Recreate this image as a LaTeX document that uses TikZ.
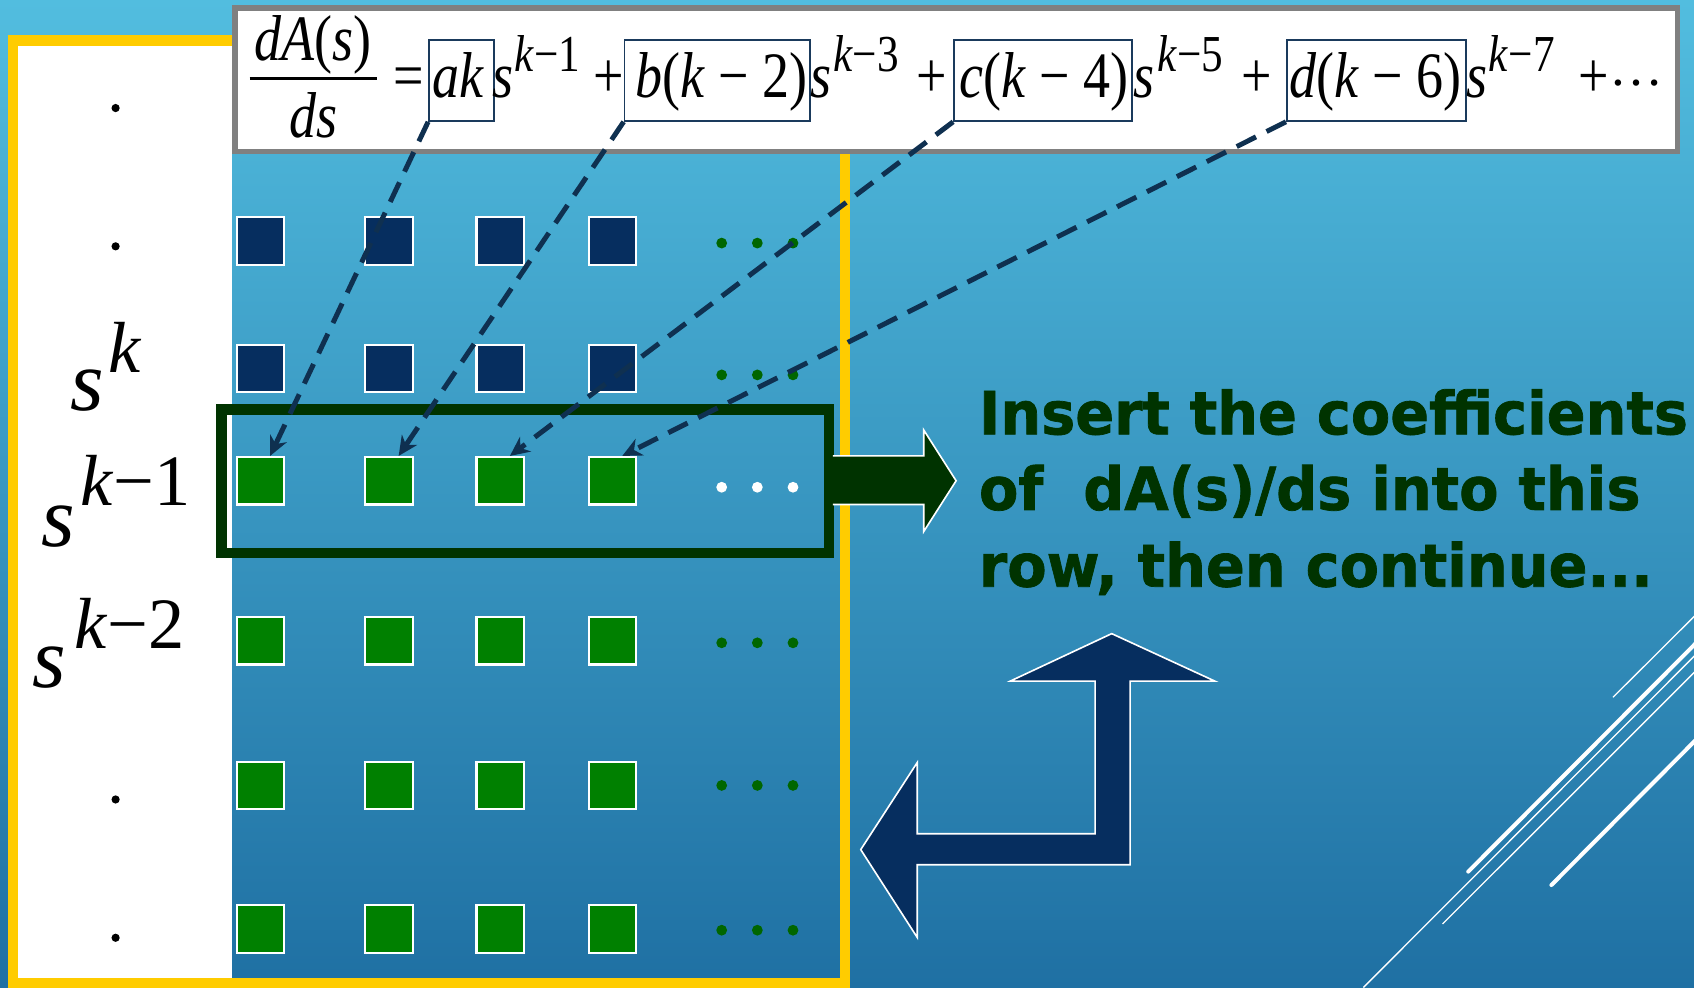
\documentclass[tikz,border=0pt]{standalone}
\usepackage{graphicx}
\usepackage{fontspec}
\setmainfont{Liberation Serif}
\newfontfamily\tahoma{DejaVu Sans}[FakeStretch=0.965,FakeBold=1.2]
\usetikzlibrary{arrows.meta}
\definecolor{bgtop}{HTML}{52BDDF}
\definecolor{bgbot}{HTML}{1F70A3}
\definecolor{frameyellow}{HTML}{FFCC00}
\definecolor{navy}{HTML}{062E5F}
\definecolor{sqgreen}{HTML}{008000}
\definecolor{dkgreen}{HTML}{003300}
\definecolor{dotgreen}{HTML}{006600}
\definecolor{dashnavy}{HTML}{0F3050}
\definecolor{termcol}{HTML}{1A3A5C}
\definecolor{eqgray}{HTML}{808080}
\newcommand\vs[1]{\scalebox{1}[1.2]{#1}}
\begin{document}
\begin{tikzpicture}[x=1pt,y=-1pt,
  cell/.style={draw=white,line width=2pt,minimum size=44pt,inner sep=0pt},
  navycell/.style={cell,fill=navy},
  greencell/.style={cell,fill=sqgreen},
  eq/.style={inner sep=0pt,anchor=base west,font=\fontsize{50}{50}\selectfont},
  sup/.style={inner sep=0pt,anchor=base west,font=\fontsize{40}{40}\selectfont},
  lbl/.style={inner sep=0pt,anchor=base west,font=\fontsize{80}{80}\selectfont},
  lblsup/.style={inner sep=0pt,anchor=base west,font=\fontsize{67}{67}\selectfont},
  termbox/.style={draw=termcol,line width=1.5pt,inner sep=0pt,minimum height=75pt},
  note/.style={inner sep=0pt,anchor=base west,text=dkgreen,font=\tahoma\bfseries\fontsize{55}{71}\selectfont},
  dasharrow/.style={draw=dashnavy,line width=4.6pt,dash pattern=on 20pt off 11pt,-{Stealth[length=18pt,width=17pt]}},
  thickline/.style={draw=white,line width=3.7pt,line cap=round},
  thinline/.style={draw=white,line width=1.2pt},
]
\useasboundingbox (0,0) rectangle (1568,914);
\shade[top color=bgtop,bottom color=bgbot] (0,0) rectangle (1568,914);

% left white panel and yellow frame
\fill[white] (12,37) rectangle (215,910);
\draw[frameyellow,line width=9.5pt] (12.2,37.5) rectangle (782,910);

% left labels
\fill[black] (107,100) circle (3.8pt);
\fill[black] (107,228) circle (3.8pt);
\fill[black] (107,740) circle (3.8pt);
\fill[black] (107,868) circle (3.8pt);
\node[lbl] (s0) at (65,380) {\textit{s}};
\node[lblsup] (s0e) at (100,345) {\textit{k}};
\node[lbl] (s1) at (38,506) {\textit{s}};
\node[lblsup] (s1e) at (74,468) {\textit{k}−1};
\node[lbl] (s2) at (30,636) {\textit{s}};
\node[lblsup] (s2e) at (69,600) {\textit{k}−2};

% squares
\foreach \c/\x in {1/241,2/360,3/463,4/567}{
  \node[navycell] (sq-1-\c) at (\x,223) {};
  \node[navycell] (sq-2-\c) at (\x,341) {};
  \node[greencell] (sq-3-\c) at (\x,445) {};
  \node[greencell] (sq-4-\c) at (\x,593) {};
  \node[greencell] (sq-5-\c) at (\x,727) {};
  \node[greencell] (sq-6-\c) at (\x,860) {};
}
% dots
\foreach \y in {225,347,595,727,861}{
  \foreach \x in {668,701,734}{ \fill[dotgreen] (\x,\y) circle (5pt); }
}
\foreach \x in {668,701,734}{ \fill[white] (\x,451) circle (5pt); }

% highlight rectangle
\draw[dkgreen,line width=9.5pt] (205,379) rectangle (767,512);
% right arrow
\filldraw[fill=dkgreen,draw=white,line width=1.5pt]
  (771,422) -- (855,422) -- (855,398) -- (885,445) -- (855,492) -- (855,467) -- (771,467);

% note text
\node[note] (note1) at (906,402) {Insert the coefficients};
\node[note] (note2) at (906,472) {of\ \ dA(s)/ds into this};
\node[note] (note3) at (906,543) {row, then continue...};

% bent arrow
\filldraw[fill=navy,draw=white,line width=1.5pt]
  (1029,586.5) -- (1124.6,630.5) -- (1046,630.5) -- (1046,800.4) -- (849,800.4)
  -- (849,867.7) -- (796.7,786.4) -- (849,705.8) -- (849,771.7) -- (1013.6,771.7)
  -- (1013.6,630.5) -- (935,630.5) -- cycle;

% decorative lines
\draw[thinline] (1493,645.4) -- (1580,558.8);
\draw[thickline] (1359,806.8) -- (1585,580);
\draw[thinline] (1262,914) -- (1580,595.5);
\draw[thinline] (1335.3,855.2) -- (1580,610.6);
\draw[thickline] (1436,819.2) -- (1585,669.5);

% equation box
\filldraw[fill=white,draw=eqgray,line width=5pt] (217.5,7.5) rectangle (1552.5,140.5);
\node[eq,anchor=base] (num) at (290,56) {\vs{\textit{dA}(\textit{s})}};
\draw[line width=3pt] (231,73) -- (349,73);
\node[eq,anchor=base] (den) at (290,127) {\vs{\textit{ds}}};
\node[eq] (eqs) at (364,90) {\vs{=}};
\node[termbox,minimum width=60pt] (t1) at (427,74.5) {};
\node[termbox,minimum width=172pt] (t2) at (664,74.5) {};
\node[termbox,minimum width=165pt] (t3) at (965.5,74.5) {};
\node[termbox,minimum width=166pt] (t4) at (1274,74.5) {};
\node[eq] (a1) at (400,90) {\vs{\textit{ak}}};
\node[eq] (p1) at (456,90) {\vs{\textit{s}}};
\node[sup] (e1) at (476,66) {\vs{\textit{k}−1}};
\node[eq] (plus1) at (549,90) {\vs{+}};
\node[eq] (a2) at (588,90) {\vs{\textit{b}(\textit{k} − 2)}};
\node[eq] (p2) at (750,90) {\vs{\textit{s}}};
\node[sup] (e2) at (771,66) {\vs{\textit{k}−3}};
\node[eq] (plus2) at (848,90) {\vs{+}};
\node[eq] (a3) at (888,90) {\vs{\textit{c}(\textit{k} − 4)}};
\node[eq] (p3) at (1049,90) {\vs{\textit{s}}};
\node[sup] (e3) at (1071,66) {\vs{\textit{k}−5}};
\node[eq] (plus3) at (1149,90) {\vs{+}};
\node[eq] (a4) at (1193,90) {\vs{\textit{d}(\textit{k} − 6)}};
\node[eq] (p4) at (1357,90) {\vs{\textit{s}}};
\node[sup] (e4) at (1378,66) {\vs{\textit{k}−7}};
\node[eq] (plus4) at (1461,90) {\vs{+}\raisebox{11pt}{…}};

% dashed arrows
\draw[dasharrow] (t1.south west) -- ([xshift=9pt]sq-3-1.north);
\draw[dasharrow] (t2.south west) -- ([xshift=9pt]sq-3-2.north);
\draw[dasharrow] (t3.south west) -- ([xshift=9pt]sq-3-3.north);
\draw[dasharrow] (t4.south west) -- ([xshift=9pt]sq-3-4.north);
\end{tikzpicture}
\end{document}
